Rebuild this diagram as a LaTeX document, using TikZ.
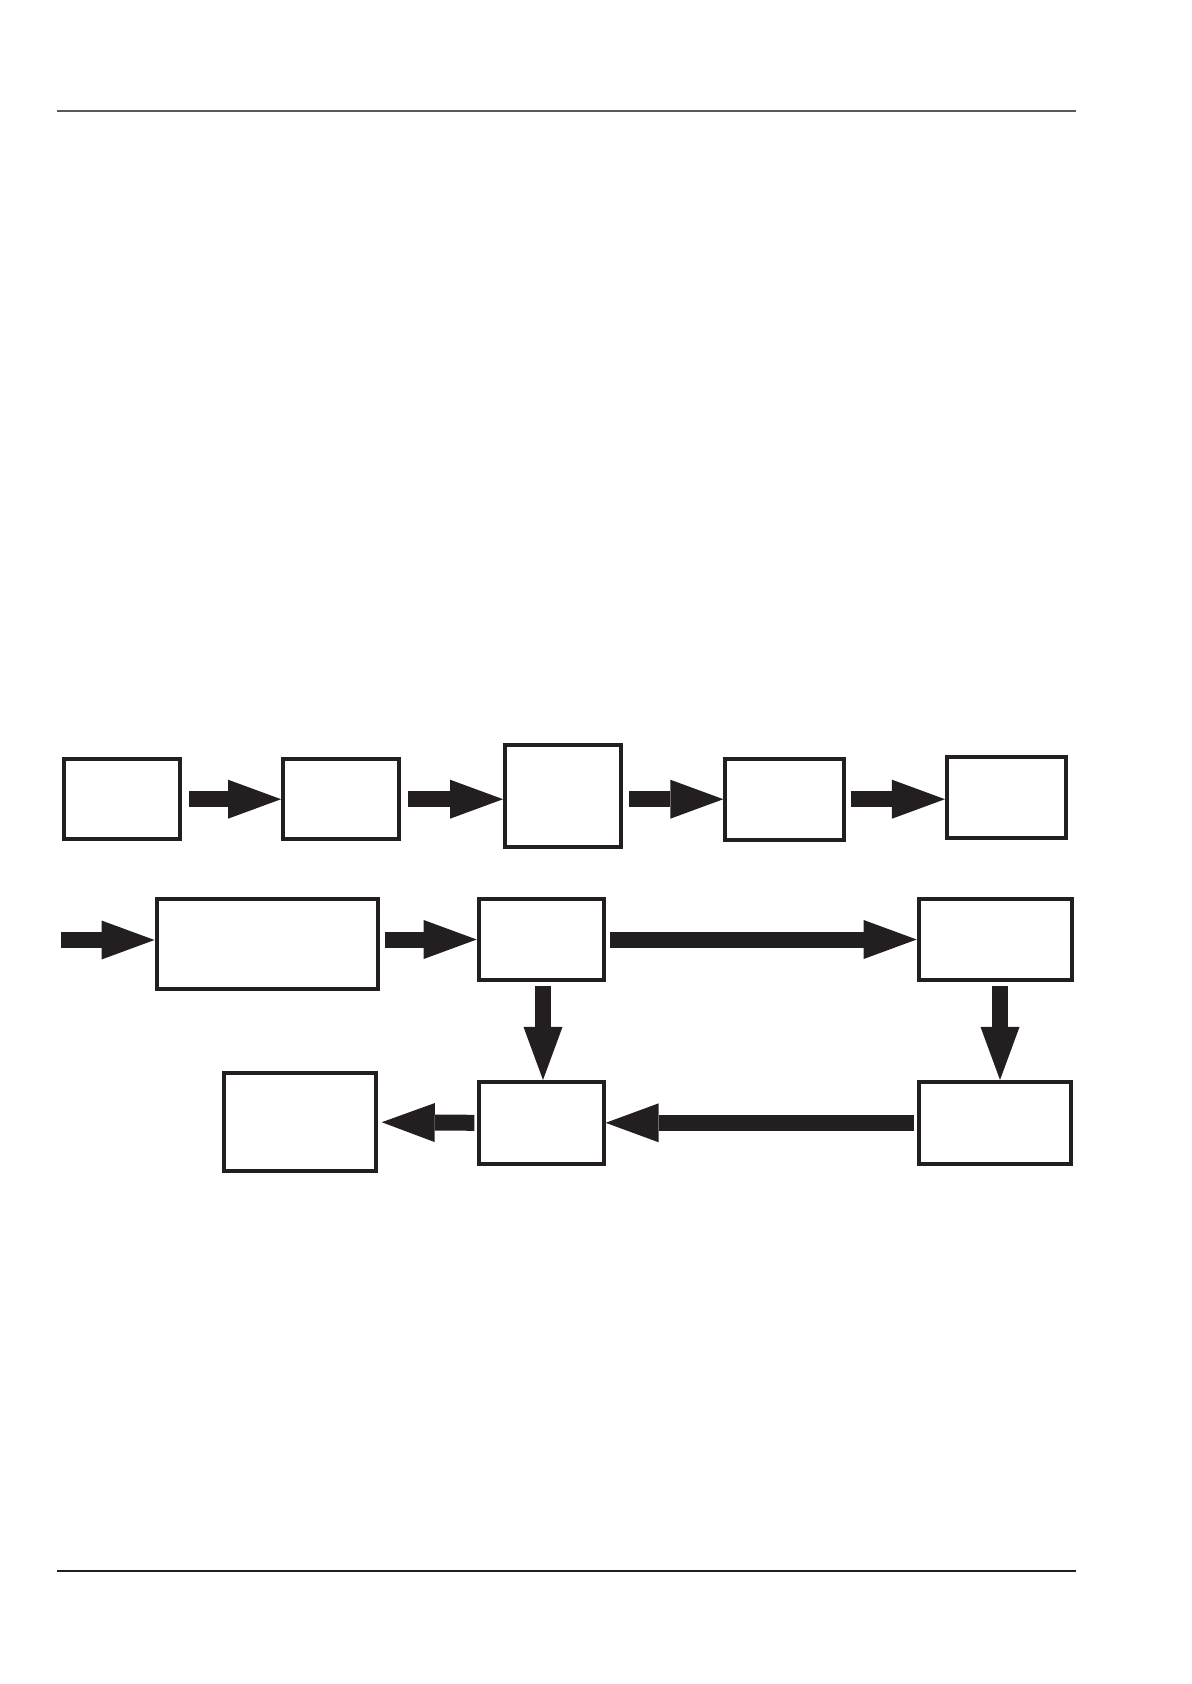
\documentclass[tikz,border=0pt]{standalone}
\usepackage{tikz}
\usetikzlibrary{arrows.meta}
\definecolor{ink}{HTML}{231F20}

\begin{document}
\begin{tikzpicture}[x=0.5pt,y=-0.5pt,
  box/.style={draw=ink,line width=2pt,inner sep=0pt},
  flow/.style={-{Triangle[length=26.5pt,width=19.5pt,line width=0pt]},line width=8pt,draw=ink}]
  \useasboundingbox (0,0) rectangle (1191,1684);
  \draw[black!65,line width=1pt] (57,110.6) -- (1076,110.6);
  \draw[ink,line width=0.8pt] (57,1571) -- (1076,1571);

  \node[box,minimum width=57.9pt,minimum height=40.25pt] (b1) at (121.7,799.2) {};
  \node[box,minimum width=57.75pt,minimum height=40.25pt] (b2) at (340.8,799.2) {};
  \node[box,minimum width=58.15pt,minimum height=51pt] (b3) at (563.2,796.3) {};
  \node[box,minimum width=59.2pt,minimum height=40.5pt] (b4) at (784.5,799.2) {};
  \node[box,minimum width=59.35pt,minimum height=40.5pt] (b5) at (1006.3,797.5) {};
  \draw[flow,shorten <=3.85pt] (b1.east) -- (b2.west);
  \draw[flow,shorten <=3.85pt] (b2.east) -- (b2.east -| b3.west);
  \draw[flow,shorten <=2.85pt] (b3.east |- b4.west) -- (b4.west);
  \draw[flow,shorten <=2.5pt] (b4.east) -- (b4.east -| b5.west);

  \coordinate (in) at (61,940);
  \node[box,minimum width=110.5pt,minimum height=45pt] (b6) at (267,944) {};
  \node[box,minimum width=62.5pt,minimum height=40.8pt] (b7) at (541.2,939.5) {};
  \node[box,minimum width=76.65pt,minimum height=40.8pt] (b8) at (995.3,939.5) {};
  \node[box,minimum width=62.5pt,minimum height=40.85pt] (b9) at (541.2,1122.8) {};
  \node[box,minimum width=76pt,minimum height=49.15pt] (b10) at (300.3,1122.2) {};
  \node[box,minimum width=76pt,minimum height=40.85pt] (b11) at (995.3,1122.8) {};
  \draw[flow] (in) -- (in -| b6.west);
  \draw[flow,shorten <=2.85pt] (b6.east |- b7.west) -- (b7.west);
  \draw[flow,shorten <=2.15pt] (b7.east) -- (b8.west);
  \draw[flow,shorten <=2pt] ([xshift=0.9pt]b7.south) -- ([xshift=0.9pt]b9.north);
  \draw[flow,shorten <=2pt] ([xshift=2.35pt]b8.south) -- ([xshift=2.35pt]b11.north);
  \draw[flow,shorten <=1.5pt] (b11.west) -- (b9.east);
  \draw[flow,shorten <=1.15pt,shorten >=1.7pt] (b9.west) -- (b10.east);
\end{tikzpicture}
\end{document}
